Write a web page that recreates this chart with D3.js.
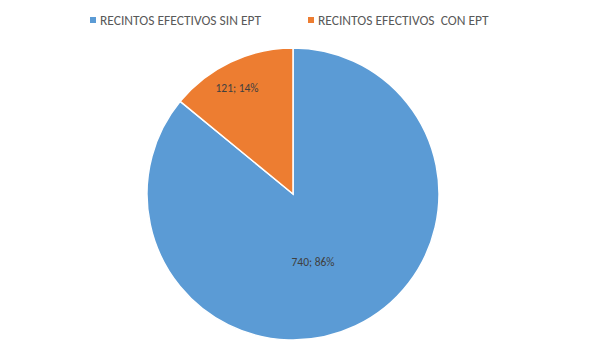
<!DOCTYPE html>
<html><head><meta charset="utf-8">
<script src="https://cdn.jsdelivr.net/npm/d3@7"></script>
<style>body{margin:0;background:#fff;} svg{display:block;font-family:Calibri,Carlito,"Liberation Sans",Arial,sans-serif;}</style>
</head><body>
<svg id="c" width="591" height="356"></svg>
<script>
const categories = ["RECINTOS EFECTIVOS SIN EPT", "RECINTOS EFECTIVOS  CON EPT"];
const values = [740, 121];
const percents = ["86%", "14%"];
const colors = ["#5B9BD5", "#ED7D31"];

const svg = d3.select("#c");
const cx = 293, cy = 194, r = 146;
const pie = d3.pie().sort(null).value(d => d)(values);
const arc = d3.arc().innerRadius(0).outerRadius(r);
const g = svg.append("g").attr("transform", `translate(${cx},${cy})`);
g.selectAll("path").data(pie).enter().append("path")
  .attr("d", arc).attr("fill", (d,i) => colors[i])
  .attr("stroke", "#fff").attr("stroke-width", 1.5);

const labelPos = [[20, 68], [-56, -106]];
g.selectAll("text.lbl").data(pie).enter().append("text")
  .attr("class","lbl")
  .attr("x", (d,i) => labelPos[i][0]).attr("y", (d,i) => labelPos[i][1])
  .attr("text-anchor","middle").attr("dominant-baseline","central")
  .attr("font-size", 11.5).attr("fill", "#404040")
  .text((d,i) => `${values[i]}; ${percents[i]}`);

const legX = [90, 308];
const leg = svg.selectAll("g.leg").data(categories).enter().append("g")
  .attr("transform", (d,i) => `translate(${legX[i]},20)`);
leg.append("rect").attr("x",0).attr("y",-3).attr("width",6).attr("height",6)
  .attr("fill", (d,i) => colors[i]);
leg.append("text").attr("x", 10).attr("y", 0).attr("dominant-baseline","central")
  .attr("font-size", 13.5).attr("fill", "#595959")
  .style("white-space","pre").attr("xml:space","preserve")
  .text(d => d);
</script>
</body></html>
